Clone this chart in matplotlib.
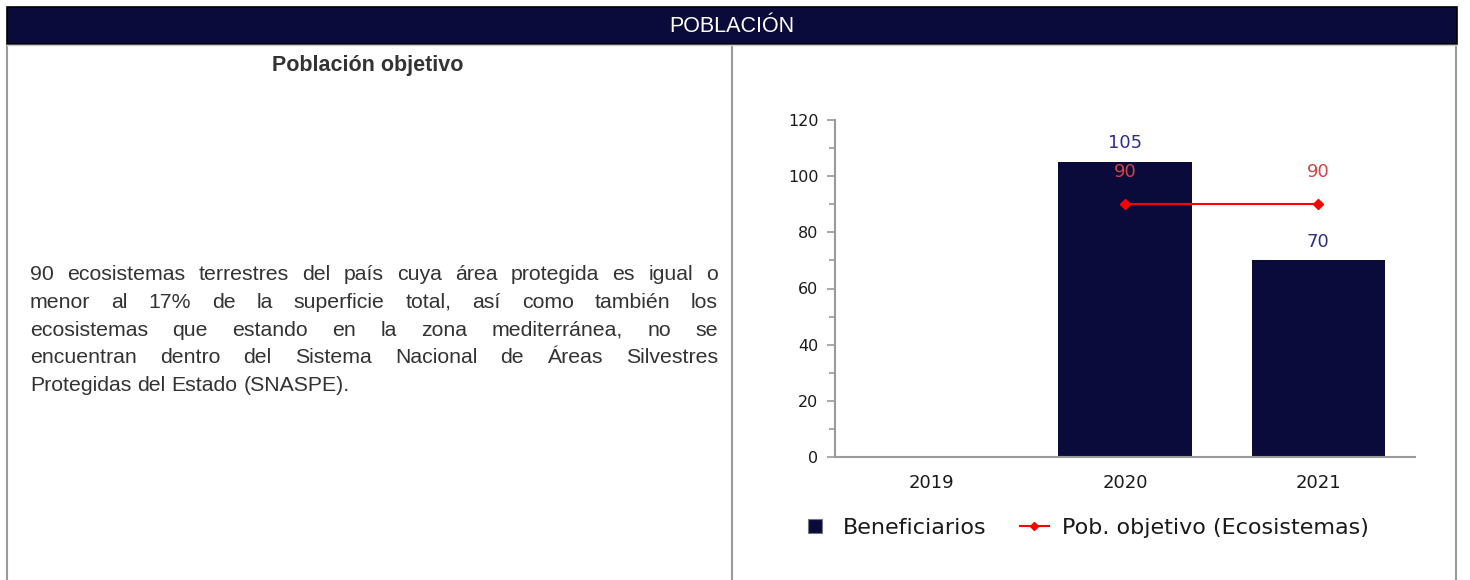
import matplotlib.pyplot as plt, numpy as np, matplotlib
from matplotlib.lines import Line2D
from matplotlib.patches import Rectangle

W, H = 1470, 580
navy = '#0b0b3b'
grey = '#9a9a9a'

years = ['2019', '2020', '2021']
beneficiarios = [np.nan, 105, 70]
pob_objetivo = [np.nan, 90, 90]
y_ticks = [0, 20, 40, 60, 80, 100, 120]

header = 'POBLACIÓN'
subtitle = 'Población objetivo'
parrafo = ['90 ecosistemas terrestres del país cuya área protegida es igual o',
		   'menor al 17% de la superficie total, así como también los',
		   'ecosistemas que estando en la zona mediterránea, no se',
		   'encuentran dentro del Sistema Nacional de Áreas Silvestres',
		   'Protegidas del Estado (SNASPE).']
leg_labels = ['Beneficiarios', 'Pob. objetivo (Ecosistemas)']

fig = plt.figure(figsize=(W / 100, H / 100), dpi=100)
fig.patch.set_facecolor('white')

# overlay in pixel coordinates for the table frame and the text
ax0 = fig.add_axes([0, 0, 1, 1])
ax0.set_xlim(0, W)
ax0.set_ylim(H, 0)
ax0.axis('off')

ax0.add_patch(Rectangle((7, 7), 1450, 37, facecolor=navy, edgecolor='black', lw=1.2))
ax0.text(732, 26, header, color='white', ha='center', va='center', fontsize=15.5, family='Liberation Sans')
for xv in [7.5, 732, 1456.5]:
	ax0.plot([xv, xv], [45, H], color=grey, lw=1.5, solid_capstyle='butt')
ax0.plot([7, 1457], [45, 45], color='#cfcfcf', lw=1.0)
ax0.text(368, 65, subtitle, ha='center', va='center', fontsize=15.5, fontweight='bold',
		 family='Liberation Sans', color='#333333')

# justified paragraph, word by word on a common baseline
fs = 15.3
renderer = fig.canvas.get_renderer()
x_left, x_right = 30, 718
for i, line in enumerate(parrafo):
	yv = 280 + i * 27.8
	words = line.split(' ')
	txts = [ax0.text(0, yv, w, ha='left', va='baseline', fontsize=fs, family='Liberation Sans',
					 color='#333333') for w in words]
	widths = [t.get_window_extent(renderer).width for t in txts]
	if i < len(parrafo) - 1:
		gap = (x_right - x_left - sum(widths)) / (len(words) - 1)
	else:
		gap = 0.278 * fs * 100 / 72
	xc = x_left
	for t, wd in zip(txts, widths):
		t.set_x(xc)
		xc += wd + gap

# chart
ax = fig.add_axes([835 / W, 1 - 457 / H, 580 / W, 337 / H])
x = np.arange(len(years))
ax.bar(x, beneficiarios, width=0.69, color=navy, zorder=2)
ax.plot(x, pob_objetivo, color='#ff0000', lw=1.5, marker='D', ms=5, zorder=3)
for xi, v in zip(x, beneficiarios):
	if not np.isnan(v):
		ax.annotate(str(int(v)), (xi, v), xytext=(0, 13.5), textcoords='offset points', ha='center',
					va='center', color='#2e2e8f', fontsize=13)
for xi, v in zip(x, pob_objetivo):
	if not np.isnan(v):
		ax.annotate(str(int(v)), (xi, v), xytext=(0, 23.5), textcoords='offset points', ha='center',
					va='center', color='#d04545', fontsize=13)
ax.set_xlim(-0.5, 2.5)
ax.set_ylim(0, 120)
ax.set_yticks(y_ticks)
ax.set_yticks(np.arange(10, 120, 20), minor=True)
ax.set_xticks(x)
ax.set_xticklabels(years)
for s in ['top', 'right']:
	ax.spines[s].set_visible(False)
for s in ['left', 'bottom']:
	ax.spines[s].set_color(grey)
	ax.spines[s].set_linewidth(1.5)
ax.tick_params(axis='y', which='major', length=6, width=1.2, color=grey, labelsize=11.5, labelcolor='#1a1a1a', pad=6)
ax.tick_params(axis='y', which='minor', length=4, width=1.2, color=grey)
ax.tick_params(axis='x', length=0, labelsize=13, labelcolor='#1a1a1a', pad=12)

handles = [Line2D([], [], ls='None', marker='s', ms=10, mfc=navy, mec='#777777', mew=0.8),
		   Line2D([], [], color='#ff0000', lw=1.5, marker='D', ms=4)]
fig.legend(handles, leg_labels, loc='center', bbox_to_anchor=(1085 / W, 1 - 528 / H), ncol=2,
		   frameon=False, fontsize=16, handlelength=1.3, handletextpad=0.6, columnspacing=1.5,
		   labelcolor='#1a1a1a')

fig.savefig('out.png', dpi=100)
